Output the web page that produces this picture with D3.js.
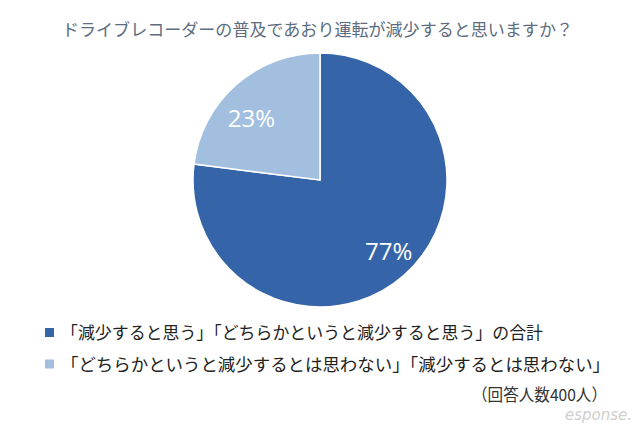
<!DOCTYPE html>
<html><head><meta charset="utf-8">
<script src="https://cdn.jsdelivr.net/npm/d3@7"></script>
<style>body{margin:0;background:#fff}svg{display:block}</style>
</head><body>
<svg id="c" width="640" height="426"></svg>
<script>
const title = "ドライブレコーダーの普及であおり運転が減少すると思いますか？";
const categories = ["「減少すると思う」「どちらかというと減少すると思う」の合計", "「どちらかというと減少するとは思わない」「減少するとは思わない」"];
const values = [77, 23];
const labels = ["77%", "23%"];
const colors = ["#3565a8", "#a3bfdf"];
const note = "（回答人数400人）";

const svg = d3.select("#c");
const font = "'Noto Sans CJK JP', 'Noto Sans', sans-serif";
svg.append("rect").attr("width",640).attr("height",426).attr("fill","#fff");

svg.append("text").attr("x",62).attr("y",36)
  .attr("font-family",font).attr("font-size",17).attr("fill","#5d6d80")
  .attr("textLength",511).attr("lengthAdjust","spacingAndGlyphs").text(title);

const cx = 320, cy = 180, r = 127;
const pie = d3.pie().sort(null).value(d=>d);
const arcs = pie(values);
const arc = d3.arc().innerRadius(0).outerRadius(r);
const labelArc = d3.arc().innerRadius(97).outerRadius(97);
const g = svg.append("g").attr("transform",`translate(${cx},${cy})`);
g.selectAll("path").data(arcs).join("path").attr("d",arc)
  .attr("fill",(d,i)=>colors[i]).attr("stroke","#fff").attr("stroke-width",1.5);
g.selectAll("text").data(arcs).join("text")
  .attr("transform",d=>{const c=labelArc.centroid(d);return `translate(${c[0]*1.07},${c[1]*0.92+5+8.5})`;})
  .attr("text-anchor","middle").attr("font-family","'Open Sans', 'Noto Sans', sans-serif")
  .attr("font-size",24).attr("fill","#fff").text((d,i)=>labels[i]);

const legEnds = [543, 610];
const leg = svg.append("g");
categories.forEach((c,i)=>{
  const y = 339 + i*31.5;
  leg.append("rect").attr("x",45).attr("y",y-11).attr("width",9).attr("height",9).attr("fill",colors[i]);
  leg.append("text").attr("x",61).attr("y",y).attr("font-family",font).attr("font-size",17.5)
    .attr("fill","#222").attr("textLength",legEnds[i]-61).attr("lengthAdjust","spacingAndGlyphs").text(c);
});
svg.append("text").attr("x",472).attr("y",401)
  .attr("font-family",font).attr("font-size",16.5).attr("fill","#333")
  .attr("textLength",135).attr("lengthAdjust","spacingAndGlyphs").text(note);
svg.append("text").attr("x",632).attr("y",420).attr("text-anchor","end")
  .attr("font-family","'DejaVu Sans', sans-serif").attr("font-style","italic").attr("font-size",15)
  .attr("fill","#c4c4c4").attr("opacity",0.8).text("esponse.");
</script>
</body></html>
